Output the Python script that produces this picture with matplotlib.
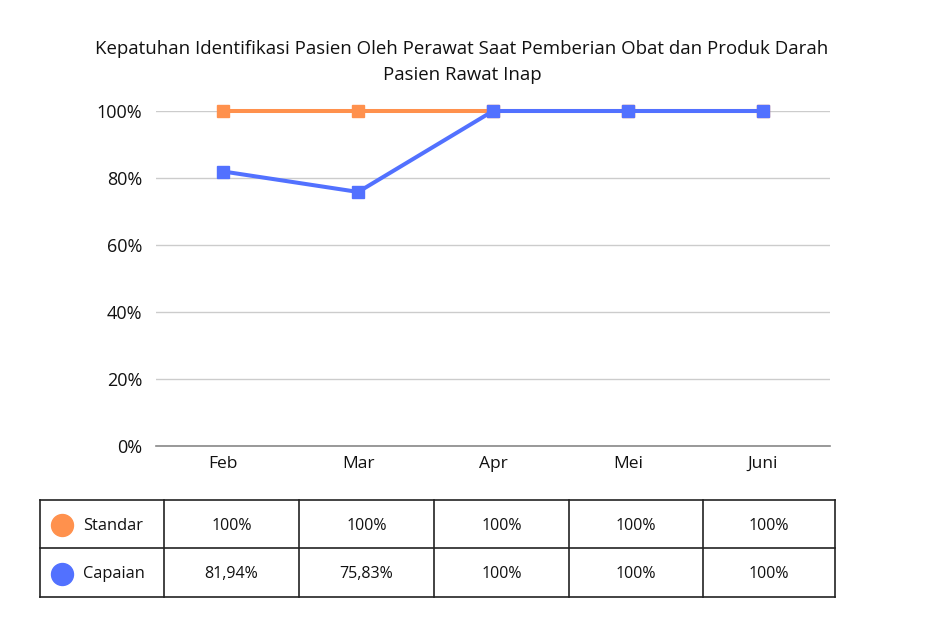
import matplotlib
matplotlib.use("Agg")
import matplotlib.pyplot as plt

plt.rcParams['font.family'] = ['Open Sans', 'DejaVu Sans']

# data
months = ["Feb", "Mar", "Apr", "Mei", "Juni"]
standar = [100, 100, 100, 100, 100]
capaian = [81.94, 75.83, 100, 100, 100]
standar_labels = ["100%", "100%", "100%", "100%", "100%"]
capaian_labels = ["81,94%", "75,83%", "100%", "100%", "100%"]
y_ticks = [0, 20, 40, 60, 80, 100]

orange = "#FF914D"
blue = "#5271FF"

W, H = 943, 626
fig = plt.figure(figsize=(W / 100, H / 100), dpi=100)

# main chart area (pixel coords converted to figure fractions)
ax = fig.add_axes([156 / W, 1 - 446 / H, (830 - 156) / W, (446 - 111) / H])
x = list(range(len(months)))
ax.plot(x, standar, color=orange, lw=2.9, marker='s', ms=8.5, clip_on=False, zorder=3)
ax.plot(x, capaian, color=blue, lw=2.9, marker='s', ms=8.5, clip_on=False, zorder=4)
ax.set_xlim(-0.5, len(months) - 0.5)
ax.set_ylim(0, 100)
ax.set_yticks(y_ticks)
ax.set_yticklabels([f"{v}%" for v in y_ticks], fontsize=13, color="#111111")
ax.set_xticks(x)
ax.set_xticklabels(months, fontsize=12.5, color="#111111")
ax.tick_params(length=0)
ax.tick_params(axis='x', pad=7)
ax.tick_params(axis='y', pad=10)
ax.grid(axis='y', color="#cccccc", lw=1)
ax.set_axisbelow(True)
for s in ["top", "right", "left"]:
    ax.spines[s].set_visible(False)
ax.spines["bottom"].set_color("#888888")
ax.spines["bottom"].set_linewidth(1.2)

fig.text(462 / W, 1 - 49 / H, "Kepatuhan Identifikasi Pasien Oleh Perawat Saat Pemberian Obat dan Produk Darah",
         ha='center', va='center', fontsize=13.4, color="#111111")
fig.text(462 / W, 1 - 75 / H, "Pasien Rawat Inap",
         ha='center', va='center', fontsize=13.4, color="#111111")

# table drawn in pixel space
tab = fig.add_axes([0, 0, 1, 1])
tab.set_xlim(0, W)
tab.set_ylim(H, 0)
tab.axis('off')
col_edges = [40, 164, 299, 434, 569, 703, 835]
row_edges = [500, 548, 597]
for cx in col_edges:
    tab.plot([cx, cx], [row_edges[0], row_edges[-1]], color="#222222", lw=1.2)
for ry in row_edges:
    tab.plot([col_edges[0], col_edges[-1]], [ry, ry], color="#222222", lw=1.2)

rows = [("Standar", orange, standar_labels), ("Capaian", blue, capaian_labels)]
for r, (name, col, labels) in enumerate(rows):
    yc = (row_edges[r] + row_edges[r + 1]) / 2 + 1.5
    tab.scatter([62], [yc - 0.5], s=250, color=col, marker='o', zorder=3)
    tab.text(83, yc, name, ha='left', va='center', fontsize=11.8, color="#111111")
    for i, lab in enumerate(labels):
        xc = (col_edges[i + 1] + col_edges[i + 2]) / 2
        tab.text(xc, yc, lab, ha='center', va='center', fontsize=11.5, color="#111111")

fig.savefig("out.png", dpi=100, facecolor="white")
